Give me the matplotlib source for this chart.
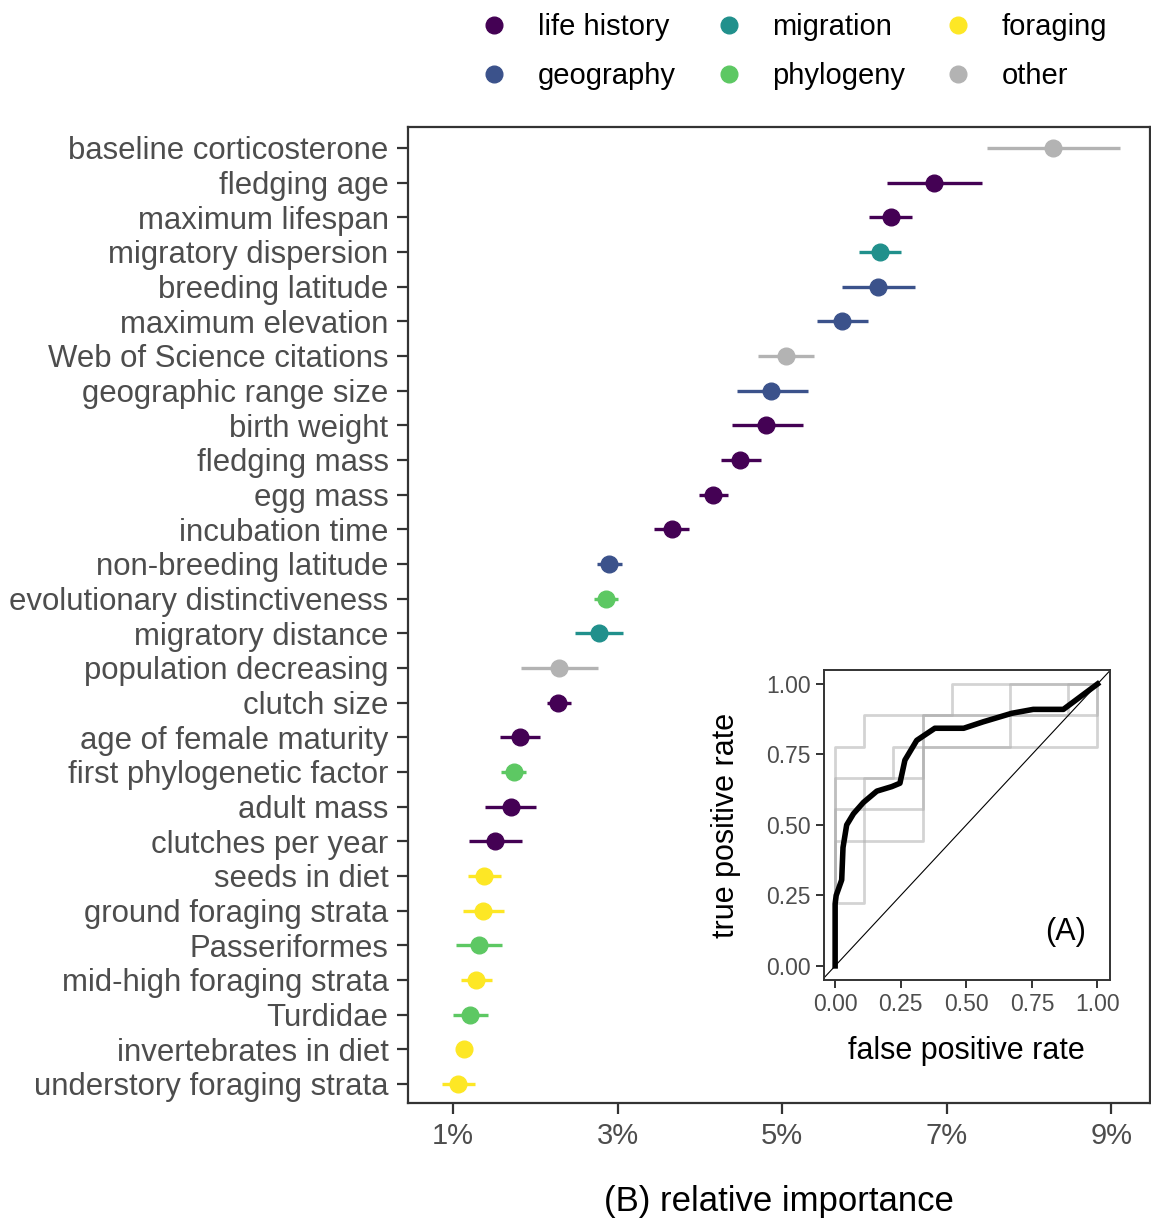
import matplotlib
matplotlib.use("Agg")
import matplotlib.pyplot as plt
from matplotlib.lines import Line2D

plt.rcParams["font.family"] = ["Liberation Sans", "DejaVu Sans"]

# predictors, top to bottom
predictors = [
    "baseline corticosterone", "fledging age", "maximum lifespan", "migratory dispersion",
    "breeding latitude", "maximum elevation", "Web of Science citations", "geographic range size",
    "birth weight", "fledging mass", "egg mass", "incubation time", "non-breeding latitude",
    "evolutionary distinctiveness", "migratory distance", "population decreasing", "clutch size",
    "age of female maturity", "first phylogenetic factor", "adult mass", "clutches per year",
    "seeds in diet", "ground foraging strata", "Passeriformes", "mid-high foraging strata",
    "Turdidae", "invertebrates in diet", "understory foraging strata",
]
group = [
    "other", "life history", "life history", "migration", "geography", "geography", "other",
    "geography", "life history", "life history", "life history", "life history", "geography",
    "phylogeny", "migration", "other", "life history", "life history", "phylogeny",
    "life history", "life history", "foraging", "foraging", "phylogeny", "foraging",
    "phylogeny", "foraging", "foraging",
]
importance = [8.29, 6.85, 6.32, 6.19, 6.17, 5.73, 5.05, 4.87, 4.81, 4.49, 4.16, 3.66, 2.90,
              2.86, 2.78, 2.29, 2.28, 1.82, 1.74, 1.70, 1.51, 1.38, 1.37, 1.32, 1.28, 1.21,
              1.14, 1.06]
lower = [7.49, 6.28, 6.06, 5.94, 5.73, 5.43, 4.71, 4.45, 4.39, 4.26, 3.99, 3.44, 2.75,
         2.72, 2.48, 1.83, 2.14, 1.57, 1.59, 1.39, 1.19, 1.18, 1.12, 1.04, 1.10, 1.00,
         1.10, 0.87]
upper = [9.11, 7.43, 6.58, 6.45, 6.62, 6.04, 5.39, 5.31, 5.25, 4.74, 4.34, 3.87, 3.05,
         3.00, 3.07, 2.76, 2.43, 2.06, 1.89, 2.01, 1.84, 1.59, 1.62, 1.60, 1.47, 1.42,
         1.18, 1.27]

groups = ["life history", "geography", "migration", "phylogeny", "foraging", "other"]
colors = {
    "life history": "#440154",
    "geography": "#3b528b",
    "migration": "#21908c",
    "phylogeny": "#5dc863",
    "foraging": "#fde725",
    "other": "#b3b3b3",
}

# ROC curves for inset (A)
roc_fpr = [0, 0, 0.004, 0.025, 0.03, 0.044, 0.07, 0.108, 0.159, 0.216, 0.247, 0.266,
           0.311, 0.38, 0.49, 0.565, 0.673, 0.755, 0.87, 1.0]
roc_tpr = [0, 0.22, 0.25, 0.305, 0.42, 0.50, 0.54, 0.58, 0.62, 0.636, 0.648, 0.73,
           0.80, 0.843, 0.843, 0.866, 0.896, 0.91, 0.91, 1.0]
fold_fpr = [
    [0, 0, 0.111, 0.111, 0.444, 0.444, 1.0],
    [0, 0, 0.333, 0.333, 1.0, 1.0],
    [0, 0, 0.111, 0.111, 0.222, 0.222, 1.0, 1.0],
    [0, 0, 0.333, 0.333, 0.667, 0.667, 1.0],
    [0, 0, 0.333, 0.333, 0.889, 0.889, 1.0],
]
fold_tpr = [
    [0, 0.778, 0.778, 0.889, 0.889, 1.0, 1.0],
    [0, 0.556, 0.556, 0.889, 0.889, 1.0],
    [0, 0.222, 0.222, 0.667, 0.667, 0.778, 0.778, 1.0],
    [0, 0.444, 0.444, 0.778, 0.778, 1.0, 1.0],
    [0, 0.667, 0.667, 0.889, 0.889, 1.0, 1.0],
]

fig = plt.figure(figsize=(11.51, 12.18), dpi=100)
ax = fig.add_axes([0.3545, 0.0944, 0.6445, 0.8013])

n = len(predictors)
ypos = list(range(n, 0, -1))
for i in range(n):
    c = colors[group[i]]
    ax.plot([lower[i], upper[i]], [ypos[i], ypos[i]], color=c, lw=2.4, solid_capstyle="butt", zorder=2)
    ax.plot(importance[i], ypos[i], "o", color=c, ms=12, mec=c, zorder=3)

ax.set_yticks(ypos)
ax.set_yticklabels(predictors, fontsize=22.4, color="#4d4d4d")
ax.set_xticks([1, 3, 5, 7, 9])
ax.set_xticklabels(["1%", "3%", "5%", "7%", "9%"], fontsize=21, color="#4d4d4d")
ax.set_xlim(0.454, 9.47)
ax.set_ylim(0.45, n + 0.6)
ax.tick_params(axis="both", length=8, width=1.6, color="#333333", pad=6)
ax.tick_params(axis="x", pad=6)
for s in ax.spines.values():
    s.set_linewidth(1.6)
    s.set_color("#333333")
ax.set_xlabel("(B) relative importance", fontsize=25, labelpad=25)

# legend
handles = [Line2D([], [], marker="o", ls="", ms=12, color=colors[g]) for g in groups]
fig.legend(handles, groups, ncol=3, loc="upper center", bbox_to_anchor=(0.688, 1.011),
           frameon=False, fontsize=21, handletextpad=0.9, columnspacing=1.2,
           labelspacing=0.72, handlelength=1.2)

# inset ROC
ins = fig.add_axes([0.716, 0.1954, 0.248, 0.2546])
for fx, fy in zip(fold_fpr, fold_tpr):
    ins.plot(fx, fy, color="#b0b0b0", lw=2.0, alpha=0.55, zorder=1)
ins.plot([-0.05, 1.05], [-0.05, 1.05], color="black", lw=0.8, zorder=2)
ins.plot(roc_fpr, roc_tpr, color="black", lw=4, solid_joinstyle="round", zorder=3)
ins.set_xlim(-0.042, 1.046)
ins.set_ylim(-0.05, 1.05)
ins.set_xticks([0, 0.25, 0.5, 0.75, 1.0])
ins.set_yticks([0, 0.25, 0.5, 0.75, 1.0])
ins.set_xticklabels(["0.00", "0.25", "0.50", "0.75", "1.00"], fontsize=16.5, color="#4d4d4d")
ins.set_yticklabels(["0.00", "0.25", "0.50", "0.75", "1.00"], fontsize=16.5, color="#4d4d4d")
ins.tick_params(axis="both", length=6, width=1.4, color="#333333")
for s in ins.spines.values():
    s.set_linewidth(1.4)
    s.set_color("#333333")
ins.set_xlabel("false positive rate", fontsize=22, labelpad=14)
ins.set_ylabel("true positive rate", fontsize=22, labelpad=18)
ins.text(0.88, 0.12, "(A)", fontsize=22, ha="center", va="center", transform=ins.transData)

fig.savefig("out.png", dpi=100)
